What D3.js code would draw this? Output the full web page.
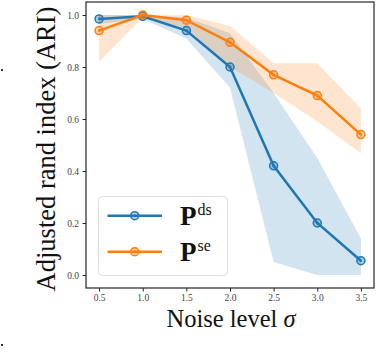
<!DOCTYPE html>
<html><head><meta charset="utf-8">
<script src="https://cdn.jsdelivr.net/npm/d3@7"></script>
<style>body{margin:0;background:#fff;}svg{display:block;}</style>
</head><body>
<svg id="c" width="376" height="362"></svg>
<script>
const sigma = [0.5, 1.0, 1.5, 2.0, 2.5, 3.0, 3.5];
const dsMean = [0.985, 0.995, 0.94, 0.80, 0.42, 0.20, 0.055];
const dsLow  = [0.965, 0.985, 0.91, 0.72, 0.05, 0.0, 0.0];
const dsHigh = [1.0, 1.0, 0.99, 0.93, 0.70, 0.45, 0.14];
const seMean = [0.94, 1.0, 0.98, 0.895, 0.77, 0.69, 0.54];
const seLow  = [0.82, 0.99, 0.95, 0.80, 0.70, 0.59, 0.468];
const seHigh = [1.0, 1.0, 1.0, 0.958, 0.814, 0.814, 0.64];
const xTicks = [0.5, 1.0, 1.5, 2.0, 2.5, 3.0, 3.5];
const yTicks = [0.0, 0.2, 0.4, 0.6, 0.8, 1.0];
const seriesNames = ["ds", "se"];
const colors = ["#1f77b4", "#ff7f0e"];

const svg = d3.select("#c");
const L = 86, R = 374, T = 2, B = 288;
const x = d3.scaleLinear().domain([0.35, 3.65]).range([L, R]);
const y = d3.scaleLinear().domain([-0.05, 1.05]).range([B, T]);
const font = "'Liberation Serif', 'DejaVu Serif', serif";

const series = [
  {mean: dsMean, low: dsLow, high: dsHigh, color: colors[0], name: seriesNames[0]},
  {mean: seMean, low: seLow, high: seHigh, color: colors[1], name: seriesNames[1]}
];

const area = d3.area().x((d,i)=>x(sigma[i])).y0(d=>y(d[0])).y1(d=>y(d[1]));
const line = d3.line().x((d,i)=>x(sigma[i])).y(d=>y(d));

series.forEach(s => {
  svg.append("path").datum(s.low.map((v,i)=>[v, s.high[i]]))
    .attr("d", area).attr("fill", s.color).attr("fill-opacity", 0.2);
});
series.forEach(s => {
  svg.append("path").datum(s.mean).attr("d", line)
    .attr("fill", "none").attr("stroke", s.color).attr("stroke-width", 2.5);
  const g = svg.append("g");
  s.mean.forEach((v,i) => {
    g.append("circle").attr("cx", x(sigma[i])).attr("cy", y(v)).attr("r", 4)
      .attr("fill", s.color).attr("fill-opacity", 0.35)
      .attr("stroke", s.color).attr("stroke-width", 1.5);
    g.append("circle").attr("cx", x(sigma[i])).attr("cy", y(v)).attr("r", 1.3)
      .attr("fill", s.color);
  });
});

// frame
svg.append("rect").attr("x", L).attr("y", T).attr("width", R-L).attr("height", B-T)
  .attr("fill", "none").attr("stroke", "#111").attr("stroke-width", 1.1);

// axes
const xAxis = d3.axisBottom(x).tickValues(xTicks).tickFormat(d3.format(".1f")).tickSize(3.5).tickPadding(3);
const gx = svg.append("g").attr("transform", `translate(0,${B})`).call(xAxis);
gx.select(".domain").remove();
gx.selectAll("text").attr("font-family", font).attr("font-size", 9.5).attr("fill", "#444");
gx.selectAll("line").attr("stroke", "#222");

const yAxis = d3.axisLeft(y).tickValues(yTicks).tickFormat(d3.format(".1f")).tickSize(3.5).tickPadding(3.5);
const gy = svg.append("g").attr("transform", `translate(${L},0)`).call(yAxis);
gy.select(".domain").remove();
gy.selectAll("text").attr("font-family", font).attr("font-size", 9.5).attr("fill", "#444");
gy.selectAll("line").attr("stroke", "#222");

// axis labels
svg.append("text").attr("x", 231).attr("y", 327).attr("text-anchor", "middle")
  .attr("font-family", font).attr("font-size", 24.5).attr("fill", "#111")
  .html('Noise level <tspan font-style="italic">σ</tspan>');
svg.append("text").attr("transform", "translate(55,149) rotate(-90)").attr("text-anchor", "middle")
  .attr("font-family", font).attr("font-size", 26.5).attr("fill", "#111")
  .text("Adjusted rand index (ARI)");

// legend
const lg = svg.append("g");
lg.append("rect").attr("x", 98.5).attr("y", 196.5).attr("width", 129).attr("height", 79)
  .attr("rx", 4).attr("fill", "#fff").attr("fill-opacity", 0.8)
  .attr("stroke", "#ddd").attr("stroke-width", 1);
const rowsY = [215.7, 251.7];
series.forEach((s, k) => {
  const yy = rowsY[k];
  lg.append("line").attr("x1", 107.5).attr("x2", 162).attr("y1", yy).attr("y2", yy)
    .attr("stroke", s.color).attr("stroke-width", 2.5);
  lg.append("circle").attr("cx", 134.7).attr("cy", yy).attr("r", 4)
    .attr("fill", s.color).attr("fill-opacity", 0.35).attr("stroke", s.color).attr("stroke-width", 1.5);
  lg.append("circle").attr("cx", 134.7).attr("cy", yy).attr("r", 1.3).attr("fill", s.color);
  const t = lg.append("text").attr("x", 180).attr("y", yy + 9)
    .attr("font-family", font).attr("fill", "#111");
  t.append("tspan").attr("font-size", 27).attr("font-weight", "bold").text("P");
  t.append("tspan").attr("font-size", 16).attr("dx", 1).attr("dy", -10).text(s.name);
});

// stray marks at left edge
svg.append("rect").attr("x", 1).attr("y", 69).attr("width", 2).attr("height", 2).attr("fill", "#333");
svg.append("rect").attr("x", 1).attr("y", 344).attr("width", 2).attr("height", 2).attr("fill", "#333");
</script>
</body></html>
